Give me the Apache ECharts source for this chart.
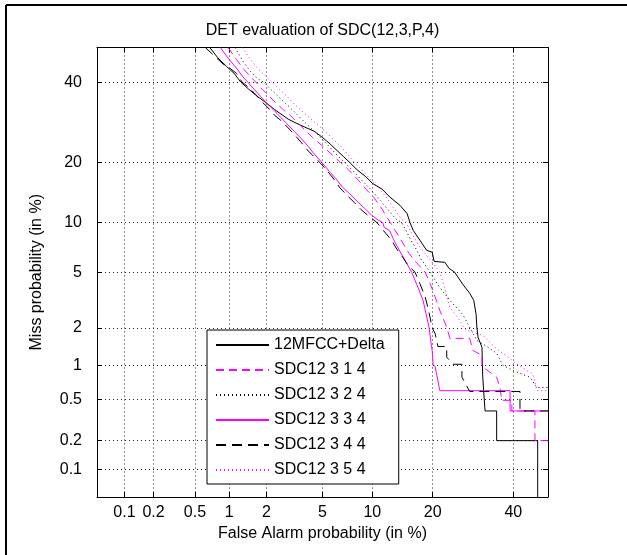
<!DOCTYPE html>
<html>
<head>
<meta charset="utf-8">
<script src="https://cdn.jsdelivr.net/npm/echarts@6/dist/echarts.min.js"></script>
<style>
html,body{margin:0;padding:0;background:#fff;}
#chart{width:627px;height:555px;}
</style>
</head>
<body>
<div id="chart"></div>
<script>
// axis ticks, in percent
var tickPct = [0.1, 0.2, 0.5, 1, 2, 5, 10, 20, 40];
var tickLabels = ['0.1', '0.2', '0.5', '1', '2', '5', '10', '20', '40'];
var axisMinPct = 0.05, axisMaxPct = 50;

var names = ['12MFCC+Delta', 'SDC12 3 1 4', 'SDC12 3 2 4', 'SDC12 3 3 4', 'SDC12 3 4 4', 'SDC12 3 5 4'];

// [false alarm %, miss %]
var mfccDelta = [[0.68,50],[0.8,47],[0.95,44.5],[1.1,42.5],[1.25,40],[1.45,38],[1.7,36],[1.95,34.5],[2.3,32.5],
  [2.9,30],[3.3,29],[3.8,28],[4.4,27],[5.0,25.5],[5.6,24],[6.2,22.5],[6.8,21.2],[7.4,20],[8.2,18.5],[9.2,17.2],
  [10.0,16],[11.3,15],[12.4,13.7],[14.0,12.4],[15.2,11.2],[15.7,10.0],[16.3,9.0],[17.5,7.91],[18.8,6.88],[19.9,6.7],
  [20.3,5.87],[22.6,5.79],[23.5,5.3],[24.8,5.0],[26.7,4.15],[28.4,3.6],[29.4,3.21],[30.0,2.53],[30.2,2.0],[30.5,1.69],
  [31.5,1.41],[31.7,0.79],[32.3,0.39],[35.4,0.39],[35.4,0.2],[47.0,0.2],[47.0,0.01]];

var sdc314 = [[0.98,50],[1.15,46.5],[1.3,44],[1.5,41.5],[1.65,40],[1.85,38],[2.1,36],[2.4,34],[2.7,32.3],[3.0,31],
  [3.4,29],[3.8,27.3],[4.3,25.5],[4.9,23.8],[5.6,22],[6.5,20],[7.3,18.5],[8.2,16.8],[9.2,15],[10.2,13.6],[11.2,12],
  [12.5,10.0],[13.6,8.6],[14.5,7.6],[15.5,6.6],[16.8,5.8],[18.5,5.0],[19.5,4.2],[20.5,3.4],[21.5,2.71],[23.0,2.03],
  [23.7,1.66],[28.4,1.66],[29.2,1.33],[31.5,1.21],[31.5,0.98],[35.4,0.79],[36.3,0.64],[36.8,0.49],[39.6,0.49],
  [39.6,0.39],[46.2,0.39],[46.2,0.20],[50,0.20]];

var sdc324 = [[1.12,50],[1.3,46],[1.5,43],[1.7,41],[1.9,40],[2.15,38],[2.45,36],[2.8,34],[3.15,32.2],[3.5,30.5],
  [3.9,28.8],[4.4,27],[5.0,25],[5.6,23.2],[6.2,21.5],[6.9,20],[7.8,18.2],[8.8,16.4],[9.9,14.8],[11.0,13.2],[12.2,11.7],
  [13.3,10.5],[14.3,10.0],[15.0,9.0],[15.8,8.0],[16.8,7.0],[17.8,6.0],[19.5,5.0],[21.5,3.94],[23.7,3.21],[26.7,2.53],
  [28.5,2.0],[30.2,1.60],[32.8,1.43],[35.4,1.26],[37.1,1.0],[40,0.9],[44.7,0.79],[46.8,0.64],[50,0.64]];

var sdc334 = [[0.84,50],[1.0,46.5],[1.15,44],[1.3,41.5],[1.42,40],[1.6,38],[1.8,36],[2.0,34.2],[2.25,32.5],[2.55,30.5],
  [2.85,28.8],[3.2,27],[3.6,25.2],[4.0,23.5],[4.4,21.8],[4.95,20],[5.5,18.3],[6.1,16.8],[6.7,15.3],[7.4,14.2],[8.2,13],
  [9.0,12],[9.9,11],[10.8,10.3],[11.4,10.0],[11.6,9.4],[12.4,9.0],[13.0,8.0],[13.8,7.0],[14.8,6.0],[16.0,5.0],
  [16.9,4.15],[18.1,3.21],[19.3,2.0],[19.6,1.6],[19.9,1.33],[20.1,1.02],[20.5,0.98],[21.5,0.60],[39.1,0.60],
  [39.1,0.39],[50,0.39]];

var sdc344 = [[0.62,50],[0.75,47.5],[0.9,45],[1.02,43.9],[1.15,42.5],[1.28,40],[1.45,38.5],[1.65,36.5],[1.85,34.5],
  [2.05,33],[2.3,31],[2.6,29.5],[2.9,27.8],[3.25,26],[3.6,24.3],[4.0,22.5],[4.45,21],[4.8,20],[5.3,18.5],[5.9,16.8],
  [6.45,15.2],[7.1,14],[7.9,12.8],[8.6,11.8],[9.5,10.9],[10.6,10],[11.5,9.0],[12.6,8.0],[13.5,7.0],[14.5,6.2],
  [15.4,5.5],[16.6,5.0],[17.5,4.2],[18.5,3.4],[19.2,2.7],[19.9,2.0],[20.5,1.82],[21.1,1.43],[23.0,1.43],[23.0,1.17],
  [24.4,1.02],[26.5,1.02],[26.5,0.79],[28.4,0.59],[41.9,0.59],[41.9,0.39],[50,0.39]];

var sdc354 = [[1.28,50],[1.5,46.5],[1.75,43.5],[2.0,41.5],[2.2,40],[2.5,38],[2.85,36],[3.2,34],[3.6,32.2],[4.05,30.5],
  [4.6,28.7],[5.2,27],[5.8,25.2],[6.5,23.5],[7.2,21.7],[7.9,20],[8.8,18.3],[9.8,16.7],[10.9,15.1],[12.0,13.5],
  [13.0,12.0],[14.2,10.5],[15.0,10.0],[16.2,8.5],[17.5,7.18],[19.5,6.0],[21.5,5.0],[22.5,3.94],[23.7,2.85],[26.0,2.29],
  [27.0,2.0],[27.7,1.92],[31.8,1.75],[35,1.4],[37.1,1.26],[41.9,0.98],[45.6,0.84],[46.8,0.60],[50,0.60]];

// inverse of the normal CDF (Acklam)
function probit(p){
  var a=[-39.69683028665376,220.9460984245205,-275.9285104469687,138.3577518672690,-30.66479806614716,2.506628277459239];
  var b=[-54.47609879822406,161.5858368580409,-155.6989798598866,66.80131188771972,-13.28068155288572];
  var c=[-0.007784894002430293,-0.3223964580411365,-2.400758277161838,-2.549732539343734,4.374664141464968,2.938163982698783];
  var d=[0.007784695709041462,0.3224671290700398,2.445134137142996,3.754408661907416];
  var pl=0.02425, q, r;
  if(p<pl){
    q=Math.sqrt(-2*Math.log(p));
    return (((((c[0]*q+c[1])*q+c[2])*q+c[3])*q+c[4])*q+c[5])/((((d[0]*q+d[1])*q+d[2])*q+d[3])*q+1);
  }
  if(p<=1-pl){
    q=p-0.5; r=q*q;
    return (((((a[0]*r+a[1])*r+a[2])*r+a[3])*r+a[4])*r+a[5])*q/(((((b[0]*r+b[1])*r+b[2])*r+b[3])*r+b[4])*r+1);
  }
  q=Math.sqrt(-2*Math.log(1-p));
  return -(((((c[0]*q+c[1])*q+c[2])*q+c[3])*q+c[4])*q+c[5])/((((d[0]*q+d[1])*q+d[2])*q+d[3])*q+1);
}

function toDet(arr){
  var out=[];
  for(var i=0;i<arr.length;i++){
    out.push([probit(arr[i][0]/100), probit(arr[i][1]/100)]);
  }
  return out;
}

var tickZ = tickPct.map(function(p){ return probit(p/100); });
var zMin = probit(axisMinPct/100), zMax = probit(axisMaxPct/100);
var font = 'Liberation Sans, Arial, sans-serif';

function tickFmt(v){
  for(var i=0;i<tickZ.length;i++){
    if(Math.abs(tickZ[i]-v)<1e-6) return tickLabels[i];
  }
  return '';
}

function detAxis(pos, showLabel){
  return {
    type:'value', position:pos, min:zMin, max:zMax,
    axisLine:{show:true, onZero:false, lineStyle:{color:'#000', width:1}},
    axisTick:{show:true, inside:true, length:5, customValues:tickZ, lineStyle:{color:'#000'}},
    axisLabel:{show:showLabel, customValues:tickZ, formatter:tickFmt, color:'#000', fontSize:16, fontFamily:font},
    splitLine:{show:showLabel, lineStyle:{color:'#222', width:1, type:[1,3]}}
  };
}

var xBottom = detAxis('bottom', true);
xBottom.axisLabel.margin = 8;
xBottom.name = 'False Alarm probability (in %)';
xBottom.nameLocation = 'middle';
xBottom.nameGap = 28;
xBottom.nameTextStyle = {color:'#000', fontSize:16, fontFamily:font};

var xTop = detAxis('top', false);
xTop.name = 'DET evaluation of SDC(12,3,P,4)';
xTop.nameLocation = 'middle';
xTop.nameGap = 9;
xTop.nameTextStyle = {color:'#000', fontSize:16, fontFamily:font};

var yLeft = detAxis('left', true);
yLeft.axisLabel.margin = 15;
yLeft.name = 'Miss probability (in %)';
yLeft.nameLocation = 'middle';
yLeft.nameGap = 52;
yLeft.nameTextStyle = {color:'#000', fontSize:16, fontFamily:font};

var yRight = detAxis('right', false);

var styles = [
  {color:'#000000', type:'solid', data:mfccDelta},
  {color:'#ff00ff', type:[8,5], data:sdc314},
  {color:'#000000', type:[1,3], data:sdc324},
  {color:'#ff00ff', type:'solid', data:sdc334},
  {color:'#000000', type:[10,6], data:sdc344},
  {color:'#ff00ff', type:[1,3], data:sdc354}
];

var series = [];
for(var i=0;i<names.length;i++){
  series.push({
    name:names[i], type:'line', symbol:'none', clip:true,
    xAxisIndex:0, yAxisIndex:0,
    data:toDet(styles[i].data),
    itemStyle:{color:styles[i].color},
    lineStyle:{color:styles[i].color, width:1, type:styles[i].type}
  });
}

var myChart = echarts.init(document.getElementById('chart'));
var option = {
  animation:false,
  backgroundColor:'#fff',
  grid:{left:97, top:47.5, right:79, bottom:58, containLabel:false},
  xAxis:[xBottom, xTop],
  yAxis:[yLeft, yRight],
  legend:{
    orient:'vertical', left:207, top:330,
    itemWidth:53, itemHeight:16, itemGap:9,
    padding:[7,14,6,8],
    backgroundColor:'#fff', borderColor:'#000', borderWidth:1, borderRadius:0,
    selectedMode:false,
    itemStyle:{opacity:0},
    textStyle:{color:'#000', fontSize:16, fontFamily:font},
    data:names
  },
  graphic:[
    {type:'line', shape:{x1:6, y1:5, x2:627, y2:5}, style:{stroke:'#000', lineWidth:2}},
    {type:'line', shape:{x1:6, y1:5, x2:6, y2:555}, style:{stroke:'#000', lineWidth:2}}
  ],
  series:series
};
myChart.setOption(option);
</script>
</body>
</html>
